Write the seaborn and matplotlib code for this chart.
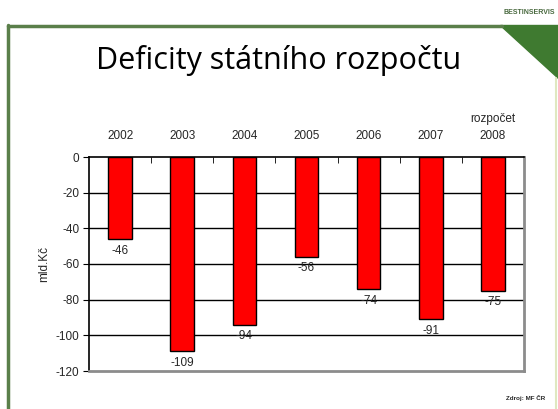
import numpy as np
import pandas as pd
import matplotlib.pyplot as plt
import matplotlib.patches as mpatches
import seaborn as sns

# data
years = ['2002', '2003', '2004', '2005', '2006', '2007', 'rozpočet\n2008']
deficit = [-46, -109, -94, -56, -74, -91, -75]
yticks = [0, -20, -40, -60, -80, -100, -120]

data = pd.DataFrame({'rok': years, 'deficit': deficit})

sns.set_style('white')
plt.rcParams['font.family'] = ['Liberation Sans', 'DejaVu Sans']

fig = plt.figure(figsize=(5.58, 4.09), dpi=100)
fig.patch.set_facecolor('white')

# slide frame (green)
fig.add_artist(plt.Line2D([8/558, 8/558], [0, 1 - 25/409], color='#5a7f4a', lw=2.5))
fig.add_artist(plt.Line2D([8/558, 502/558], [1 - 26/409, 1 - 26/409], color='#5a7f4a', lw=2.5))
fig.add_artist(mpatches.Polygon([[500/558, 1 - 25/409], [1, 1 - 25/409], [1, 1 - 78/409]],
                                closed=True, color='#3f7a30', transform=fig.transFigure))
fig.text(0.995, 1 - 12/409, 'BESTINSERVIS', ha='right', va='center', fontsize=5,
         color='#4a6a40', fontweight='bold')

fig.text(0.5, 1 - 61/409, 'Deficity státního rozpočtu', ha='center', va='center',
         fontsize=22, family=['Open Sans', 'DejaVu Sans'], color='black')

ax = fig.add_axes([89/558, 38/409, 435/558, 214/409])
sns.barplot(data=data, x='rok', y='deficit', color='#ff0000', saturation=1,
            edgecolor='black', linewidth=1, width=0.38, ax=ax)

ax.set_ylim(-120, 0)
ax.set_yticks(yticks)
ax.set_yticklabels([str(v) for v in yticks], fontsize=8.5)
ax.set_xlim(-0.5, len(years) - 0.5)
ax.xaxis.tick_top()
ax.set_xticks(range(len(years)))
ax.set_xticklabels(years, fontsize=8.5, linespacing=1.5)
ax.tick_params(axis='x', length=0, pad=11)
ax.set_xticks(np.arange(0.5, len(years) - 0.5, 1), minor=True)
ax.tick_params(axis='x', which='minor', direction='in', length=4, color='black', top=True)
ax.tick_params(axis='y', left=True, direction='out', length=4, color='black', pad=3)
ax.set_xlabel('')
ax.set_ylabel('mld.Kč', fontsize=8.5, labelpad=4)

for v in yticks[1:-1]:
    ax.axhline(v, color='black', lw=1, zorder=0)

for side in ['top', 'left']:
    ax.spines[side].set_color('black')
    ax.spines[side].set_linewidth(1.2)
for side in ['right', 'bottom']:
    ax.spines[side].set_color('#8c8c8c')
    ax.spines[side].set_linewidth(2)

ax.bar_label(ax.containers[0], labels=[str(v) for v in deficit], padding=4, fontsize=8.5)

fig.text(545/558, 1 - 398/409, 'Zdroj: MF ČR', ha='right', va='center', fontsize=4.5,
         fontweight='bold')
fig.add_artist(plt.Line2D([556/558, 556/558], [0, 1 - 78/409], color='#dfe8c0', lw=1.5))

fig.savefig('out.png', dpi=100)
